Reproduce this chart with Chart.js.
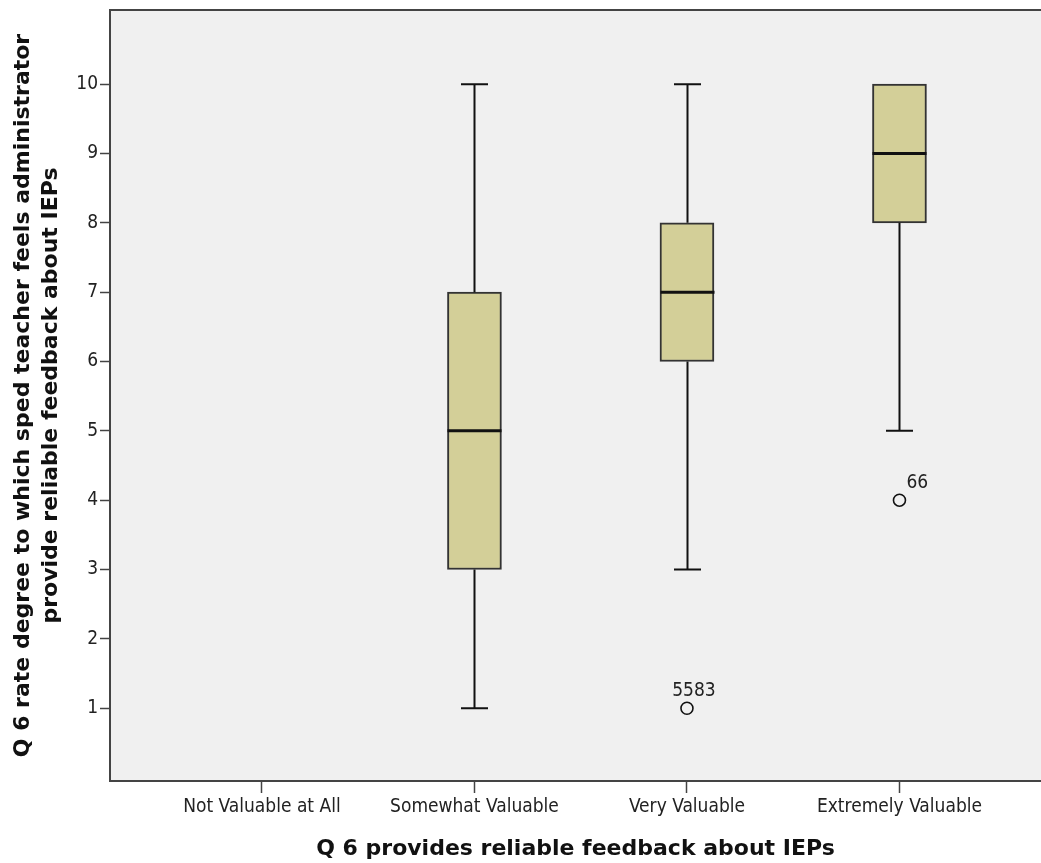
<!DOCTYPE html>
<html>
<head>
    <title>Q6 boxplot</title>
    <script src="https://cdn.jsdelivr.net/npm/chart.js"></script>
    <style>
        html, body { margin: 0; padding: 0; background: #ffffff; }
        #box { width: 1041px; height: 863px; }
    </style>
</head>
<body>
    <div id="box"><canvas id="myChart"></canvas></div>

    <script>
        // categorias del eje x y resumen de cada caja
        const categories = ['Not Valuable at All', 'Somewhat Valuable', 'Very Valuable', 'Extremely Valuable'];
        const whiskerLow = [null, 1, 3, 5];
        const q1 = [null, 3, 6, 8];
        const median = [null, 5, 7, 9];
        const q3 = [null, 7, 8, 10];
        const whiskerHigh = [null, 10, 10, 10];

        // valores atipicos (categoria, valor, casos)
        const outlierCat = [2, 3];
        const outlierVal = [1, 4];
        const outlierIds = [['55', '83'], ['66']];

        const yTicks = [1, 2, 3, 4, 5, 6, 7, 8, 9, 10];

        const boxFill = '#d3cf98';
        const lineColor = '#111111';
        const tickFont = { family: '"Liberation Sans Narrow", "DejaVu Sans Condensed", "Liberation Sans", sans-serif', size: 19 };
        const titleFamily = '"DejaVu Sans", sans-serif';

        var boxData = [];
        categories.forEach((c, i) => {
            if (q1[i] !== null) boxData.push({ x: i, y: [q1[i], q3[i]] });
        });
        var outlierData = outlierCat.map((c, i) => ({ x: c, y: outlierVal[i] }));

        // fondo gris y linea superior del area
        const plotFrame = {
            id: 'plotFrame',
            beforeDraw(chart) {
                const a = chart.chartArea, ctx = chart.ctx;
                ctx.save();
                ctx.fillStyle = '#f0f0f0';
                ctx.fillRect(a.left, a.top, a.right - a.left, a.bottom - a.top);
                ctx.strokeStyle = '#444444';
                ctx.lineWidth = 2;
                ctx.beginPath();
                ctx.moveTo(a.left, a.top);
                ctx.lineTo(a.right, a.top);
                ctx.stroke();
                ctx.restore();
            }
        };

        // bigotes, medianas y etiquetas de los atipicos
        const boxParts = {
            id: 'boxParts',
            afterDatasetsDraw(chart) {
                const ctx = chart.ctx, xs = chart.scales.x, ys = chart.scales.y;
                const half = 27, cap = 13.5;
                ctx.save();
                ctx.strokeStyle = lineColor;
                categories.forEach((c, i) => {
                    if (q1[i] === null) return;
                    const cx = Math.round(xs.getPixelForValue(i)) + 0.5;
                    const yLo = ys.getPixelForValue(whiskerLow[i]);
                    const yQ1 = ys.getPixelForValue(q1[i]);
                    const yQ3 = ys.getPixelForValue(q3[i]);
                    const yHi = ys.getPixelForValue(whiskerHigh[i]);
                    const yMed = ys.getPixelForValue(median[i]);
                    ctx.lineWidth = 2;
                    ctx.beginPath();
                    ctx.moveTo(cx, yQ1); ctx.lineTo(cx, yLo);
                    ctx.moveTo(cx - cap, yLo); ctx.lineTo(cx + cap, yLo);
                    if (yHi < yQ3) {
                        ctx.moveTo(cx, yQ3); ctx.lineTo(cx, yHi);
                        ctx.moveTo(cx - cap, yHi); ctx.lineTo(cx + cap, yHi);
                    }
                    ctx.stroke();
                    ctx.lineWidth = 3;
                    ctx.beginPath();
                    ctx.moveTo(cx - half, yMed); ctx.lineTo(cx + half, yMed);
                    ctx.stroke();
                });
                ctx.font = tickFont.size + 'px ' + tickFont.family;
                ctx.fillStyle = '#222222';
                ctx.textAlign = 'left';
                ctx.textBaseline = 'alphabetic';
                outlierCat.forEach((c, i) => {
                    const px = xs.getPixelForValue(c);
                    const py = ys.getPixelForValue(outlierVal[i]);
                    const ids = outlierIds[i];
                    const lead = ctx.measureText(ids.slice(0, -1).join('')).width;
                    ctx.fillText(ids.join(''), px + 7 - lead, py - 12);
                });
                ctx.restore();
            }
        };

        var ctx = document.getElementById('myChart').getContext('2d');
        var myChart = new Chart(ctx, {
            data: {
                datasets: [{
                    type: 'bar',
                    data: boxData,
                    backgroundColor: boxFill,
                    borderColor: '#333333',
                    borderWidth: 2,
                    borderSkipped: false,
                    barThickness: 54
                }, {
                    type: 'scatter',
                    data: outlierData,
                    pointStyle: 'circle',
                    pointRadius: 6,
                    pointBorderWidth: 1.6,
                    pointBorderColor: lineColor,
                    pointBackgroundColor: 'rgba(0,0,0,0)'
                }]
            },
            options: {
                responsive: true,
                maintainAspectRatio: false,
                animation: false,
                layout: { autoPadding: false, padding: { top: 10, right: 0, bottom: 0, left: 0 } },
                plugins: {
                    legend: { display: false },
                    tooltip: { enabled: false }
                },
                scales: {
                    x: {
                        type: 'linear',
                        offset: false,
                        min: -0.715,
                        max: 3.666,
                        afterBuildTicks: function(scale) {
                            scale.ticks = categories.map((c, i) => ({ value: i }));
                        },
                        afterFit: function(scale) {
                            scale.height = 82;
                            scale.paddingRight = 0;
                            scale.paddingLeft = 0;
                        },
                        grid: { offset: false, drawOnChartArea: false, tickLength: 12, tickColor: '#444444', tickWidth: 1.5 },
                        border: { color: '#444444', width: 2 },
                        ticks: {
                            autoSkip: false,
                            maxRotation: 0,
                            padding: 3,
                            color: '#222222',
                            font: tickFont,
                            callback: function(v) { return categories[v]; }
                        },
                        title: {
                            display: true,
                            text: 'Q 6 provides reliable feedback about IEPs',
                            color: '#111111',
                            font: { family: titleFamily, size: 22, weight: 'bold', lineHeight: 1 },
                            padding: { top: 0, bottom: 3 }
                        }
                    },
                    y: {
                        min: -0.05,
                        max: 11.07,
                        afterBuildTicks: function(scale) {
                            scale.ticks = yTicks.map(v => ({ value: v }));
                        },
                        afterFit: function(scale) {
                            scale.width = 110;
                            scale.paddingTop = 0;
                            scale.paddingBottom = 0;
                        },
                        grid: { drawOnChartArea: false, tickLength: 10, tickColor: '#444444', tickWidth: 1.5 },
                        border: { color: '#444444', width: 2 },
                        ticks: {
                            padding: 2,
                            color: '#222222',
                            font: tickFont
                        },
                        title: {
                            display: true,
                            text: ['Q 6 rate degree to which sped teacher feels administrator', 'provide reliable feedback about IEPs'],
                            color: '#111111',
                            font: { family: titleFamily, size: 22, weight: 'bold', lineHeight: 1.27 },
                            padding: { top: 9, bottom: 0 }
                        }
                    }
                }
            },
            plugins: [plotFrame, boxParts]
        });
    </script>
</body>
</html>
